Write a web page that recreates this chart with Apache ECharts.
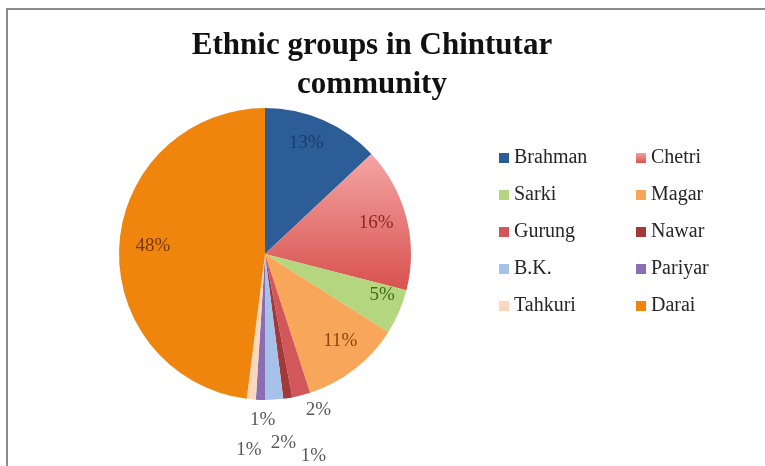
<!DOCTYPE html>
<html>
<head>
<meta charset="utf-8">
<title>Ethnic groups in Chintutar community</title>
<script src="https://cdn.jsdelivr.net/npm/echarts@6/dist/echarts.min.js"></script>
<style>
  html, body { margin: 0; padding: 0; background: #ffffff; }
  #chart { width: 765px; height: 466px; }
</style>
</head>
<body>
<div id="chart"></div>
<script>
// Ethnic groups and their share (%) of the community
const groups = ['Brahman', 'Chetri', 'Sarki', 'Magar', 'Gurung', 'Nawar', 'B.K.', 'Pariyar', 'Tahkuri', 'Darai'];
const shares = [13, 16, 5, 11, 2, 1, 2, 1, 1, 48];

// Legend columns
const legendLeft = ['Brahman', 'Sarki', 'Gurung', 'B.K.', 'Tahkuri'];
const legendRight = ['Chetri', 'Magar', 'Nawar', 'Pariyar', 'Darai'];

// Slice fills and label colours
const sliceColors = [
  '#2d5d97',
  { type: 'linear', x: 0, y: 0, x2: 0, y2: 1, colorStops: [{ offset: 0, color: '#f3a5a4' }, { offset: 1, color: '#d8514e' }] },
  '#b3d67e',
  '#f8a65a',
  '#d2575a',
  '#a33a38',
  '#a6c1ea',
  '#8a6db2',
  '#f9d8be',
  '#ef850d'
];
const labelColors = ['#1e3a68', '#8a2a28', '#3f6b1c', '#8a4510', '#595959', '#595959', '#595959', '#595959', '#595959', '#7a3800'];

// Label placement: distance from centre as a fraction of the radius, and angular nudge in degrees
const labelRadius = [0.81, 0.79, 0.85, 0.79, 1.13, 1.42, 1.30, 1.14, 1.35, 0.77];
const labelNudge = [-3, -1, -4, -3, -4.5, -4.5, -2, -1, -0.7, 0.5];

const chart = echarts.init(document.getElementById('chart'));

const serifFont = '"Liberation Serif", "Times New Roman", serif';

const legendText = { fontFamily: serifFont, fontSize: 20, color: '#262626' };

chart.setOption({
  backgroundColor: '#ffffff',
  animation: false,
  graphic: [{
    type: 'rect',
    shape: { x: 7, y: 9, width: 800, height: 500 },
    style: { fill: 'none', stroke: '#8c8c8c', lineWidth: 2 },
    silent: true
  }],
  title: {
    text: 'Ethnic groups in Chintutar\ncommunity',
    left: 367,
    top: 21,
    textAlign: 'center',
    textStyle: {
      fontFamily: serifFont,
      fontWeight: 'bold',
      fontSize: 31,
      lineHeight: 39,
      color: '#111111'
    }
  },
  legend: [
    {
      data: legendLeft,
      orient: 'vertical',
      left: 499,
      top: 148,
      padding: 0,
      itemWidth: 10,
      itemHeight: 10,
      itemGap: 17,
      icon: 'rect',
      textStyle: legendText
    },
    {
      data: legendRight,
      orient: 'vertical',
      left: 636,
      top: 148,
      padding: 0,
      itemWidth: 10,
      itemHeight: 10,
      itemGap: 17,
      icon: 'rect',
      textStyle: legendText
    }
  ],
  series: [{
    type: 'pie',
    center: [265, 254],
    radius: 146,
    startAngle: 90,
    clockwise: true,
    avoidLabelOverlap: false,
    label: {
      show: true,
      position: 'inside',
      formatter: '{d}%',
      fontFamily: serifFont,
      fontSize: 19
    },
    labelLine: { show: false },
    labelLayout: function (p) {
      const lay = chart.getModel().getSeriesByIndex(0).getData().getItemLayout(p.dataIndex);
      const mid = (lay.startAngle + lay.endAngle) / 2 + labelNudge[p.dataIndex] * Math.PI / 180;
      const k = labelRadius[p.dataIndex];
      return {
        x: lay.cx + Math.cos(mid) * lay.r * k,
        y: lay.cy + Math.sin(mid) * lay.r * k,
        align: 'center',
        verticalAlign: 'middle'
      };
    },
    emphasis: { disabled: true },
    data: groups.map(function (name, i) {
      return {
        name: name,
        value: shares[i],
        itemStyle: { color: sliceColors[i] },
        label: { color: labelColors[i] }
      };
    })
  }]
});
</script>
</body>
</html>
